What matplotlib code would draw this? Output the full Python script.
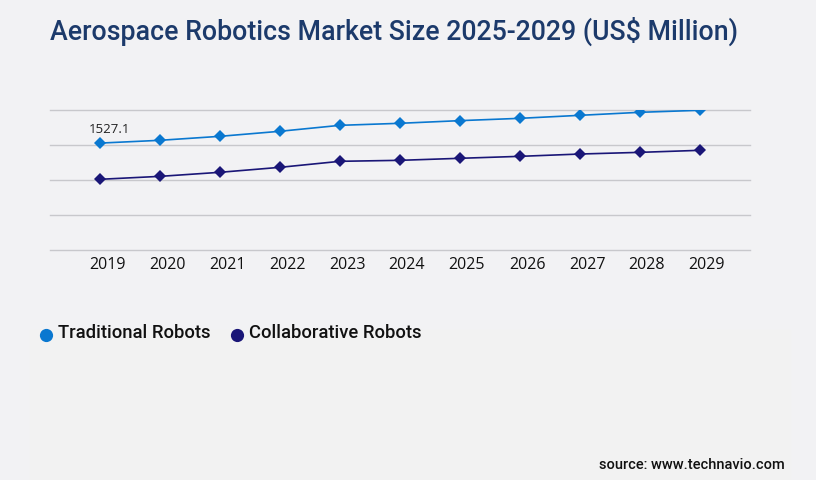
import matplotlib.pyplot as plt
import matplotlib.transforms as mtransforms
from matplotlib.lines import Line2D
from matplotlib.patches import Rectangle

YEARS = ["2019", "2020", "2021", "2022", "2023", "2024",
         "2025", "2026", "2027", "2028", "2029"]
TRADITIONAL = [1527.1, 1567, 1624, 1696, 1781, 1810,
               1848, 1881, 1924, 1967, 1996]
COLLABORATIVE = [1010, 1052, 1110, 1181, 1267, 1281,
                 1310, 1338, 1371, 1395, 1424]
SERIES_NAMES = ["Traditional Robots", "Collaborative Robots"]
COLORS = ["#0a78d0", "#1a1677"]
BG = "#f2f2f4"

W, H = 816, 480
fig = plt.figure(figsize=(W / 100, H / 100), dpi=100, facecolor=BG)

# lower panel, a touch lighter
fig.patches.append(Rectangle((30 / W, 0), 760 / W, 150 / H,
                             transform=fig.transFigure, color="#f2f2f2",
                             zorder=0))

ax = fig.add_axes([50 / W, 1 - 250 / H, 700 / W, 140 / H])
ax.set_facecolor("none")
x = list(range(len(YEARS)))

for vals, name, col in zip([TRADITIONAL, COLLABORATIVE], SERIES_NAMES, COLORS):
    ax.plot(x, vals, color=col, lw=1.2, marker="D", ms=6.5,
            markeredgewidth=0, label=name, zorder=3)

ax.annotate(f"{TRADITIONAL[0]:.1f}", (x[0], TRADITIONAL[0]),
            xytext=(7, 10), textcoords="offset points", ha="center",
            va="center", fontsize=9.5, family="Open Sans", color="#222222")

ax.set_xlim(-50 / 60, len(YEARS) - 1 + 50 / 60)
ax.set_ylim(0, 2000)
ax.set_yticks([0, 500, 1000, 1500, 2000])
ax.yaxis.grid(True, color="#c8c8cc", lw=1)
for gl in ax.get_ygridlines():
    gl.set_clip_on(False)
ax.set_yticklabels([])
ax.tick_params(axis="y", length=0)
ax.set_xticks(x)
ax.set_xticklabels(YEARS, fontsize=11.5, family="Open Sans", color="#111111")
ax.tick_params(axis="x", length=0, pad=5)
# year labels sit a little right of their points in the original
shift = mtransforms.ScaledTranslation(7 / 100, 0, fig.dpi_scale_trans)
for lbl in ax.get_xticklabels():
    lbl.set_transform(lbl.get_transform() + shift)
for s in ax.spines.values():
    s.set_visible(False)

fig.text(50 / W, 1 - 31 / H,
         "Aerospace Robotics Market Size 2025-2029 (US$ Million)",
         fontsize=19.3, family="Roboto", fontweight="medium",
         color="#1c3a6b", ha="left", va="center")

# legend
leg_x = [46, 237]
for lx, name, col in zip(leg_x, SERIES_NAMES, COLORS):
    fig.add_artist(Line2D([lx / W], [1 - 335 / H], marker="o", ms=9.5,
                          color=col, markeredgewidth=0, lw=0,
                          transform=fig.transFigure))
    fig.text((lx + 12) / W, 1 - 333 / H, name, fontsize=13.3,
             family="Roboto", fontweight="medium", color="#111111",
             ha="left", va="center")

fig.text(785 / W, 1 - 465 / H, "source: www.technavio.com", fontsize=10.5,
         family="Roboto", fontweight="medium", color="#111111",
         ha="right", va="center")

fig.savefig("out.png", dpi=100, facecolor=BG)
